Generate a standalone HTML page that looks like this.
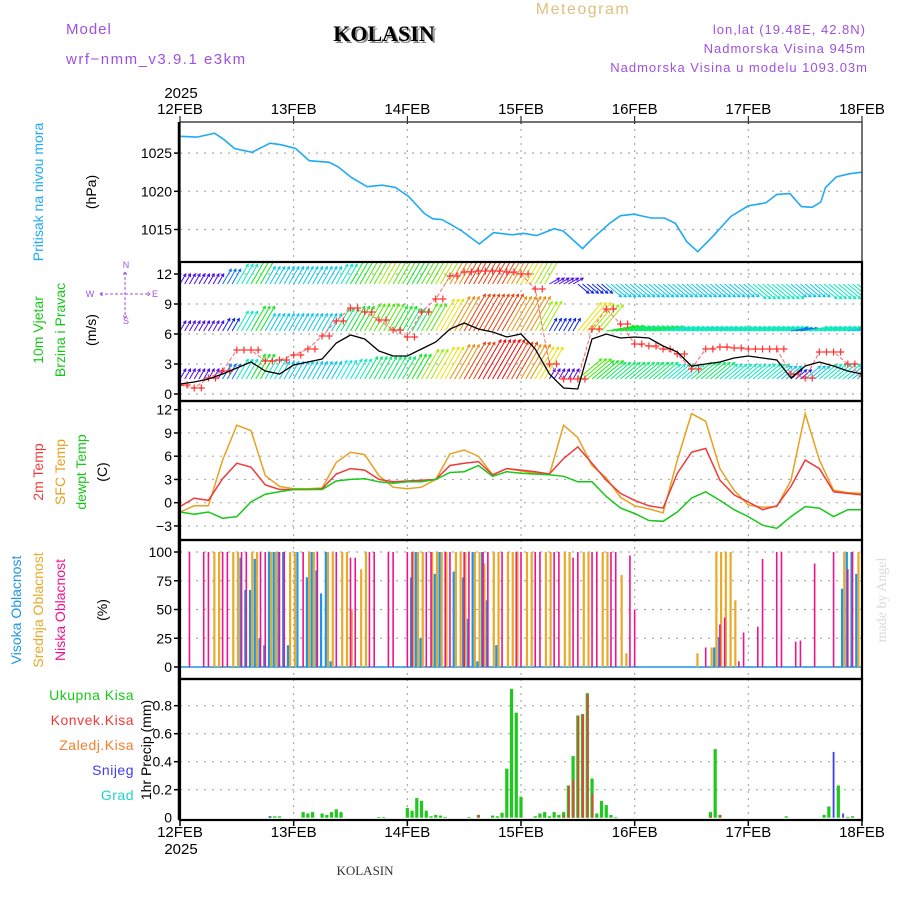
<!DOCTYPE html>
<html><head><meta charset="utf-8">
<style>
html,body{margin:0;padding:0;background:#fff;}
svg{display:block;font-family:"Liberation Sans",sans-serif;}
</style></head>
<body>
<svg id="chart" width="900" height="900" viewBox="0 0 900 900">
  <rect x="0" y="0" width="900" height="900" fill="#fff"/>
  <g id="grid"></g>
  <g id="marks"></g>
  <g id="frames"></g>
  <g id="labels"></g>
  <text x="66" y="34" font-size="15" fill="#a050e0" letter-spacing="1">Model</text>
  <text x="66" y="64" font-size="15" fill="#a050e0" letter-spacing="1.5">wrf−nmm_v3.9.1  e3km</text>
  <text x="386" y="43" font-size="22" font-weight="bold" font-family="Liberation Serif, serif" fill="#888" text-anchor="middle">KOLASIN</text>
  <text x="384" y="41" font-size="22" font-weight="bold" font-family="Liberation Serif, serif" fill="#000" text-anchor="middle">KOLASIN</text>
  <text x="583" y="14" font-size="16" fill="#e0c080" text-anchor="middle" letter-spacing="1.5">Meteogram</text>
  <text x="866" y="34" font-size="13" fill="#a050e0" text-anchor="end" letter-spacing="1">lon,lat (19.48E, 42.8N)</text>
  <text x="866" y="53" font-size="13" fill="#a050e0" text-anchor="end" letter-spacing="1">Nadmorska Visina 945m</text>
  <text x="868" y="72" font-size="13" fill="#a050e0" text-anchor="end" letter-spacing="1">Nadmorska Visina u modelu 1093.03m</text>
  <text x="181" y="98" font-size="15" fill="#000" text-anchor="middle">2025</text>
  <text x="181" y="854" font-size="15" fill="#000" text-anchor="middle">2025</text>
  <text x="365" y="875" font-size="13" font-family="Liberation Serif, serif" fill="#333" text-anchor="middle">KOLASIN</text>
  <text transform="translate(886,600) rotate(-90)" font-size="14" font-family="Liberation Serif, serif" fill="#d8dcd4" text-anchor="middle">made by Angel</text>
</svg>
<script>
// ---------- DATA ----------
const dayLabels = ["12FEB","13FEB","14FEB","15FEB","16FEB","17FEB","18FEB"];
const presHours = [0,3.6,7.3,9.2,11.5,15.2,19,21.3,24.4,27.3,31.5,33.4,36.2,39.5,42.7,45.5,48.3,51.6,53.4,55.3,57.1,59.5,63.2,66.2,70.2,72.5,75.3,79,80.9,85,86.9,90.7,93,95.8,99.5,102.3,104.6,107,109.3,112.5,116.3,120,123.7,126,128.8,131.2,133.5,135.3,136.3,138.6,141.4,144];
const presVals = [1027.2,1027.1,1027.6,1026.8,1025.6,1025.1,1026.3,1026.1,1025.6,1024.0,1023.8,1023.2,1021.8,1020.6,1020.8,1020.5,1019.3,1017.1,1016.4,1016.3,1015.7,1014.8,1013.1,1014.6,1014.3,1014.5,1014.2,1015.1,1014.8,1012.5,1013.7,1015.8,1016.8,1017.0,1016.5,1016.5,1015.8,1013.4,1012.1,1014.1,1016.7,1018.1,1018.5,1019.6,1019.7,1018.0,1017.9,1018.6,1020.5,1021.9,1022.3,1022.5];
const presTicks = [1015,1020,1025];
const windSpeed = [1.0,1.2,1.5,2.0,2.6,3.2,2.3,2.0,2.9,3.2,3.5,5.1,5.9,5.5,4.3,3.8,3.8,4.5,5.2,6.5,7.1,6.5,6.2,5.7,6.0,4.5,2.0,0.6,0.5,5.5,6.0,5.6,5.7,5.6,4.8,4.2,2.8,3.0,3.2,3.6,3.8,3.6,3.4,1.6,2.8,3.2,2.8,2.3,2.0];
const windGust = [0.9,0.6,1.6,2.3,4.4,4.4,3.3,3.4,3.9,4.5,5.8,7.3,8.6,8.2,7.4,6.4,5.7,8.2,9.5,11.8,12.2,12.3,12.3,12.2,12.0,10.5,3.0,1.5,1.5,6.5,8.5,7.0,5.0,4.8,4.5,4.0,2.5,4.5,4.7,4.6,4.5,4.5,4.5,2.0,1.6,4.2,4.2,3.0,1.8];
const row1Speed = [2,2,2,4,6,8,6,5,5,5,5,5.5,6,7,7,7,8,10,11,12,13,14,14,13,12,11,2,2,9,8,7,7,7,7,6,6,7,7,6,6,6,6,5,3,5,6,6,5,4];
const row2Speed = [2,2,2,3,6,8,5,5,5,5,5,7,8,9,9,8,7,9,11,12,13,13,13,12,12,10,3,3,11,10,8,7,7,7,6,6,6,6,6,6,6,6,6,4,6,6,6,5,5];
const row3Speed = [2,2,2,4,6,8,5,5,5,5,5,6,8,9,10,9,8,9,10,12,13,13,13,12,11,10,2,2,3,3,5,5,5,5,5,5,5,5,5,5,6,6,6,5,5,6,6,6,6];
const row1Dir = [30,30,30,30,30,30,30,30,30,30,30,30,30,30,30,30,30,30,30,30,30,30,30,30,30,30,30,30,50,50,50,50,50,50,50,50,50,50,50,50,50,50,50,50,50,50,50,50,50];
const row2Dir = [30,30,30,30,30,30,30,30,30,30,30,30,30,30,30,30,30,30,30,30,30,30,30,30,30,30,30,30,40,40,80,80,80,80,80,80,80,80,80,80,80,80,80,80,80,80,80,80,80];
const row3Dir = [30,30,30,30,30,30,30,30,30,30,30,30,30,30,30,30,30,30,30,30,30,30,30,30,30,30,60,60,130,130,130,130,130,130,130,130,130,130,130,130,130,130,130,130,130,130,130,130,130];
const windTicks = [0,3,6,9,12];
const temp2m = [-0.5,0.6,0.3,3.1,5.1,4.6,2.3,1.7,1.7,1.7,1.8,3.7,4.4,4.2,3.0,2.7,2.8,2.9,3.0,4.8,5.1,5.3,3.6,4.4,4.2,4.0,3.7,5.7,7.2,5.1,2.9,1.2,0.3,-0.4,-0.7,3.8,6.5,7.0,2.9,1.0,0.1,-0.9,-0.4,2.1,5.5,4.4,1.4,1.2,1.0];
const tempSfc = [-1.2,-0.4,-0.4,5.5,10.0,9.3,3.5,2.1,1.8,1.8,1.9,5.2,6.5,6.2,3.5,2.0,1.8,2.0,3.0,6.3,6.8,6.0,3.6,4.4,4.1,3.8,3.6,10.0,8.4,4.8,3.2,0.7,-0.4,-0.8,-1.3,5.5,11.5,10.5,4.4,1.6,-0.3,-0.6,-0.5,2.9,11.5,5.5,1.6,1.3,1.2];
const tempDew = [-1.2,-1.5,-1.2,-2.0,-1.8,0.1,1.1,1.4,1.7,1.7,1.7,2.8,3.0,3.1,2.7,2.5,2.7,2.7,3.0,3.9,4.0,4.8,3.4,4.0,3.8,3.7,3.6,3.4,2.7,2.7,0.8,-0.7,-1.4,-2.3,-2.4,-1.2,0.6,1.4,0.3,-0.9,-1.8,-2.9,-3.3,-1.8,-0.5,-0.7,-1.8,-0.9,-0.9];
const tempTicks = [-3,0,3,6,9,12];
const lowH = [2,5,6,9,10,13,14,17,18,21,22,26,29,33,36,37,40,41,44,45,48,49,52,53,56,57,60,61,64,65,68,71,72,75,76,79,80,83,84,87,88,91,92,95,96,111,114,115,118,119,122,123,126,127,130,131,134,138,141,142];
const lowV = [100,100,100,100,100,100,100,100,100,100,100,100,100,100,95,95,100,100,100,100,100,100,100,100,100,100,100,100,100,100,100,100,100,100,100,100,100,95,100,100,100,100,100,97,50,17,37,43,5,30,35,94,100,100,22,23,90,100,85,100];
const midH = [7,8,11,12,15,16,19,20,23,24,27,28,31,32,34,35,36,38,39,49,50,51,53,54,55,56,58,59,60,62,63,64,66,67,69,70,71,73,74,77,78,81,82,85,86,89,90,93,94,109,112,113,114,115,116,117,140,143];
const midV = [100,100,100,100,100,100,100,100,100,100,100,100,100,100,100,100,50,85,100,100,100,100,100,100,100,100,100,100,100,100,100,90,100,100,100,100,100,100,100,100,100,100,100,100,100,100,100,80,12,12,17,100,100,100,100,58,100,100];
const highH = [13,14,15,16,17,18,19,20,21,22,23,25,27,28,29,30,31,32,49,50,51,54,55,58,60,61,62,63,64,65,67,113,114,140,141,142,143];
const highV = [95,67,67,94,25,19,100,100,100,100,19,100,78,100,84,64,100,5,78,100,25,81,100,83,78,42,100,5,100,58,19,17,26,68,100,100,81];
const cloudTicks = [0,25,50,75,100];
const totH = [19,20,21,26,27,28,30,31,32,33,34,42,43,48,49,50,51,52,53,54,55,56,61,63,66,67,68,69,70,71,72,75,76,77,78,79,80,81,82,83,84,85,86,87,88,89,90,91,92,112,113,114,128,136,137,139,141,142];
const totV = [0.01,0.01,0.01,0.04,0.03,0.04,0.03,0.02,0.04,0.06,0.04,0.005,0.005,0.07,0.05,0.14,0.12,0.05,0.01,0.02,0.015,0.005,0.005,0.02,0.015,0.01,0.035,0.35,0.92,0.75,0.15,0.01,0.03,0.04,0.01,0.04,0.02,0.04,0.23,0.44,0.73,0.74,0.89,0.28,0.03,0.12,0.09,0.02,0.005,0.04,0.49,0.02,0.01,0.02,0.08,0.23,0.005,0.01];
const convH = [63,81,82,83,84,85,86,87,112,114];
const convV = [0.02,0.02,0.23,0.27,0.73,0.74,0.88,0.17,0.01,0.02];
const snowH = [19,138,140];
const snowV = [0.01,0.47,0.03];
const precipTicks = [0.2,0.4,0.6,0.8];

// ---------- AXES ----------
const NS = "http://www.w3.org/2000/svg";
const X0 = 180, X1 = 862, HOURS = 144;
const xh = h => X0 + (X1 - X0) * h / HOURS;
const P = {
  pres:{top:122,bot:262}, wind:{top:262,bot:401}, temp:{top:401,bot:540}, cloud:{top:540,bot:679}, prec:{top:679,bot:820}
};
const yPres = v => 229.5 - (v - 1015) * 7.64;
const yWind = v => 394 - v * 10.0;
const yTemp = v => 502.7 - v * 7.75;
const yCloud = v => 667 - v * 1.15;
const yPrec = v => 817.7 - v * 140;

function el(tag, attrs, parent){
  const e = document.createElementNS(NS, tag);
  for (const k in attrs) e.setAttribute(k, attrs[k]);
  parent.appendChild(e);
  return e;
}
const grid = document.getElementById('grid');
const marks = document.getElementById('marks');
const frames = document.getElementById('frames');
const labels = document.getElementById('labels');

for (let d = 1; d < 6; d++) {
  for (const k in P) {
    const g = el('line',{x1:xh(d*24),x2:xh(d*24),y1:P[k].top,y2:P[k].bot,stroke:'#aaa','stroke-width':1.2,'stroke-dasharray':'2,5'},grid);
    
    
  }
}
function hgrid(ticks, yf, fmt, pname){
  ticks.forEach(t=>{
    const g = el('line',{x1:X0,x2:X1,y1:yf(t),y2:yf(t),stroke:'#aaa','stroke-width':1.2,'stroke-dasharray':'2,6'},grid);
    
    
    const tk = el('line',{x1:X0-6,x2:X0,y1:yf(t),y2:yf(t),stroke:'#000','stroke-width':1.5},frames);
    
    
    const tx = el('text',{x:X0-8,y:yf(t)+5,'font-size':14,'text-anchor':'end',fill:'#000'},labels);
    tx.textContent = fmt(t);
    
    
  });
}
hgrid(presTicks, yPres, t=>String(t), 'pressure');
hgrid(windTicks, yWind, t=>String(t), 'wind');
hgrid(tempTicks, yTemp, t=>t<0?'−'+Math.abs(t):String(t), 'temp');
hgrid(cloudTicks, yCloud, t=>String(t), 'cloud');
hgrid(precipTicks, yPrec, t=>String(t), 'precip');
{
  const tx = el('text',{x:X0-8,y:yPrec(0)+5,'font-size':14,'text-anchor':'end',fill:'#000'},labels);
  tx.textContent='0';
  
  
}

dayLabels.forEach((d,i)=>{
  const t1 = el('text',{x:xh(i*24),y:114,'font-size':15,'text-anchor':'middle',fill:'#000'},labels);
  t1.textContent = d;
  
  
  const t2 = el('text',{x:xh(i*24),y:837,'font-size':15,'text-anchor':'middle',fill:'#000'},labels);
  t2.textContent = d;
  
  
  const tk = el('line',{x1:xh(i*24),x2:xh(i*24),y1:116,y2:124,stroke:'#000','stroke-width':1},frames);
  
  
});

// ---------- PRESSURE ----------
{
  const pts = presHours.map((h,i)=>xh(h).toFixed(1)+','+yPres(presVals[i]).toFixed(1)).join(' ');
  const pl = el('polyline',{points:pts,fill:'none',stroke:'#1eaaf5','stroke-width':1.6},marks);
  
  
}

// ---------- WIND ----------
const clipW = el('clipPath',{id:'cw'},marks);
el('rect',{x:X0,y:P.wind.top,width:X1-X0,height:P.wind.bot-P.wind.top},clipW);
const windG = el('g',{'clip-path':'url(#cw)'},marks);
function spdColor(s){
  const hue = Math.max(0, Math.min(280, 300 - 22*s));
  return 'hsl('+hue+',90%,48%)';
}
function drawRow(speeds, dirs, base, name){
  speeds.forEach((s,i)=>{
    for (let k=0;k<3;k++){
      const h = i*3 + k;
      if (h > HOURS) break;
      const x = xh(h), y = yWind(base);
      const L = 6 + s*2.8;
      const a = dirs[i]*Math.PI/180;
      const x2 = x + L*Math.sin(a), y2 = y - L*Math.cos(a);
      const c = spdColor(s);
      const ln = el('line',{x1:x,y1:y,x2:x2,y2:y2,stroke:c,'stroke-width':1},windG);
      
      
      const ha = Math.atan2(y2-y,x2-x);
      const hd = 3;
      const p = [x2,y2, x2-hd*Math.cos(ha-0.5), y2-hd*Math.sin(ha-0.5), x2-hd*Math.cos(ha+0.5), y2-hd*Math.sin(ha+0.5)];
      const hp = el('polyline',{points:p[2]+','+p[3]+' '+p[0]+','+p[1]+' '+p[4]+','+p[5],fill:'none',stroke:c,'stroke-width':1},windG);
      
      
    }
  });
}
drawRow(row1Speed,row1Dir,1.5,'wind-row-low');
drawRow(row2Speed,row2Dir,6.3,'wind-row-mid');
drawRow(row3Speed,row3Dir,11.0,'wind-row-high');
{
  const pts = windGust.map((v,i)=>xh(i*3).toFixed(1)+','+yWind(v).toFixed(1)).join(' ');
  const pl = el('polyline',{points:pts,fill:'none',stroke:'#f66','stroke-width':1,'stroke-dasharray':'4,2'},windG);
  
  
  windGust.forEach((v,i)=>{
    for (let k=0;k<2;k++){
      const h = i*3 + k*1.5;
      if (h > HOURS) break;
      const x = xh(h), y = yWind(v);
      const m = el('path',{d:'M'+(x-3.5)+' '+y+'H'+(x+3.5)+'M'+x+' '+(y-3.5)+'V'+(y+3.5),stroke:'#f33','stroke-width':1.2},windG);
      
      
    }
  });
  const pts2 = windSpeed.map((v,i)=>xh(i*3).toFixed(1)+','+yWind(v).toFixed(1)).join(' ');
  const sl = el('polyline',{points:pts2,fill:'none',stroke:'#000','stroke-width':1.3},windG);
  
  
}

// ---------- TEMPERATURE ----------
[[tempSfc,'#e8a020','sfc-temp-line'],[temp2m,'#f03a3a','temp-2m-line'],[tempDew,'#18c818','dewpoint-line']].forEach(([arr,c,n])=>{
  const pts = arr.map((v,i)=>xh(i*3).toFixed(1)+','+yTemp(v).toFixed(1)).join(' ');
  const pl = el('polyline',{points:pts,fill:'none',stroke:c,'stroke-width':1.5},marks);
  
  
});

// ---------- CLOUDS ----------
{
  const bl = el('line',{x1:X0,x2:X1,y1:yCloud(0),y2:yCloud(0),stroke:'#1e96e6','stroke-width':1.5},marks);
  
  
}
function cloudBars(H,V,c,off,w,name){
  H.forEach((h,i)=>{
    const x = xh(h)+off;
    const r = el('rect',{x:x-w/2,y:yCloud(V[i]),width:w,height:yCloud(0)-yCloud(V[i]),fill:c},marks);
    
    
  });
}
cloudBars(midH,midV,'#e8aa28',1.2,2.2,'mid-cloud-bar');
cloudBars(highH,highV,'#1e96e6',-1.0,2.2,'high-cloud-bar');
cloudBars(lowH,lowV,'#f0148c',0,1.6,'low-cloud-bar');

// ---------- PRECIP ----------
function precBars(H,V,c,off,w,name){
  H.forEach((h,i)=>{
    const x = xh(h)+off;
    const r = el('rect',{x:x-w/2,y:yPrec(V[i]),width:w,height:yPrec(0)-yPrec(V[i]),fill:c},marks);
    
    
  });
}
precBars(totH,totV,'#1ec81e',0,3.2,'total-precip-bar');
precBars(convH,convV,'#f03c3c',0.4,1.8,'convective-precip-bar');
precBars(snowH,snowV,'#3c3cf0',0,1.8,'snow-bar');

// ---------- FRAMES ----------
{
  const f = el('rect',{x:X0,y:P.pres.top,width:X1-X0,height:P.pres.bot-P.pres.top,fill:'none',stroke:'#444','stroke-width':1.5},frames);
  
  
  ['wind','temp','cloud','prec'].forEach(k=>{
    const r = el('rect',{x:X0,y:P[k].top,width:X1-X0,height:P[k].bot-P[k].top,fill:'none',stroke:'#000','stroke-width':2.2},frames);
    
    
  });
  const la = el('line',{x1:X0-1,x2:X0-1,y1:P.pres.top,y2:P.prec.bot,stroke:'#000','stroke-width':2.5},frames);
  
  
  for (let d=0; d<=6; d++){
    const tk = el('line',{x1:xh(d*24),x2:xh(d*24),y1:P.prec.bot,y2:P.prec.bot+6,stroke:'#000','stroke-width':1.5},frames);
    
    
  }
}

// ---------- AXIS TITLES ----------
function vtext(x,y,txt,c,name,size){
  const t = el('text',{transform:'translate('+x+','+y+') rotate(-90)','font-size':size||14,'text-anchor':'middle',fill:c},labels);
  t.textContent = txt;
  
  
}
vtext(43,192,'Pritisak na nivou mora','#1eaaf5','pressure-title');
vtext(96,192,'(hPa)','#000','pressure-unit');
vtext(43,330,'10m Vjetar','#18c818','wind-title-1');
vtext(65,330,'Brzina i Pravac','#18c818','wind-title-2');
vtext(96,330,'(m/s)','#000','wind-unit');
vtext(43,472,'2m Temp','#f03a3a','temp-2m-title');
vtext(65,472,'SFC Temp','#e8a020','sfc-temp-title');
vtext(86,472,'dewpt Temp','#18c818','dewpt-title');
vtext(107,472,'(C)','#000','temp-unit');
vtext(21,610,'Visoka Oblacnost','#1e96e6','high-cloud-title');
vtext(43,610,'Srednja Oblacnost','#e8aa28','mid-cloud-title');
vtext(65,610,'Niska Oblacnost','#f0148c','low-cloud-title');
vtext(107,610,'(%)','#000','cloud-unit');
vtext(151,750,'1hr Precip (mm)','#000','precip-title');
[['Ukupna Kisa','#18c818',700],['Konvek.Kisa','#f03a3a',725],['Zaledj.Kisa','#f08030',750],['Snijeg','#3c3cf0',775],['Grad','#1ed2d2',800]].forEach(([t,c,y])=>{
  const e = el('text',{x:134,y:y,'font-size':14,'text-anchor':'end',fill:c,'letter-spacing':0.5},labels);
  e.textContent = t;
  
  
});
[['N',126,268],['S',126,324],['W',90,297],['E',155,297]].forEach(([t,x,y])=>{
  const e = el('text',{x:x,y:y,'font-size':9,'text-anchor':'middle',fill:'#a050e0'},labels);
  e.textContent = t;
  
  
});
{
  const c = el('path',{d:'M100 294 H150 M125 272 V318 M100 294 l4 -3 M100 294 l4 3 M150 294 l-4 -3 M150 294 l-4 3 M125 272 l-3 4 M125 272 l3 4 M125 318 l-3 -4 M125 318 l3 -4',stroke:'#a050e0','stroke-width':1,fill:'none','stroke-dasharray':'3,2'},labels);
  
  
}
</script>
</body></html>
